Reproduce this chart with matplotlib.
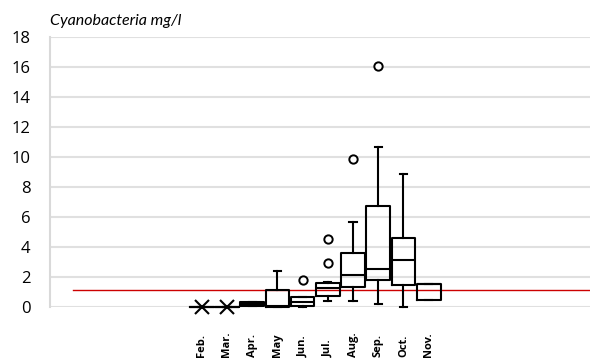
import matplotlib
matplotlib.use("Agg")
import matplotlib.pyplot as plt
import matplotlib.transforms as mtransforms

months = ["Feb.", "Mar.", "Apr.", "May", "Jun.", "Jul.", "Aug.", "Sep.", "Oct.", "Nov."]
q1 =     [0.0, 0.0, 0.05, 0.00, 0.07, 0.71, 1.33, 1.78, 1.45, 0.45]
median = [0.0, 0.0, 0.20, 0.05, 0.30, 1.22, 2.11, 2.51, 3.11, 1.51]
q3 =     [0.0, 0.0, 0.33, 1.11, 0.67, 1.60, 3.60, 6.71, 4.60, 1.51]
whislo = [0.0, 0.0, 0.05, 0.00, 0.00, 0.40, 0.40, 0.18, 0.00, 0.45]
whishi = [0.0, 0.0, 0.33, 2.38, 0.67, 1.67, 5.62, 10.67, 8.82, 1.51]
fliers = [[], [], [], [], [1.78], [2.89, 4.51], [9.85], [16.05], [], []]
means_shown = [0.0, 0.0]  # mean markers for Feb. and Mar.
threshold = 1.13
title = "Cyanobacteria mg/l"
yticks = [0, 2, 4, 6, 8, 10, 12, 14, 16, 18]

W, H = 590, 363
fig = plt.figure(figsize=(W / 100, H / 100), dpi=100)
ax = fig.add_axes([50 / W, (H - 306.7) / H, 540 / W, (306.7 - 36.7) / H])

positions = list(range(len(months)))
stats = []
for i in range(len(months)):
    stats.append(dict(q1=q1[i], med=median[i], q3=q3[i], whislo=whislo[i],
                      whishi=whishi[i], fliers=fliers[i], label=months[i]))

lw = 1.5
res = ax.bxp(stats, positions=positions, widths=0.94, showfliers=True, showcaps=True,
             boxprops=dict(color="black", linewidth=lw),
             medianprops=dict(color="black", linewidth=lw),
             whiskerprops=dict(color="black", linewidth=lw),
             capprops=dict(color="black", linewidth=lw),
             capwidths=0.28,
             flierprops=dict(marker="o", markerfacecolor="white", markeredgecolor="black",
                             markersize=6, markeredgewidth=1.4),
             zorder=3)
for key, arts in res.items():
    for a in arts:
        a.set_clip_on(False)

ax.plot(positions[:2], means_shown, linestyle="none", marker="x", color="black",
        markersize=10, markeredgewidth=1.5, zorder=4, clip_on=False)

x_left = -6.02
x_right = 15.4
ax.plot([-5.1, x_right], [threshold, threshold], color="#cc0000", linewidth=1.0, zorder=2)

ax.set_xlim(x_left, x_right)
ax.set_ylim(0, 18)
ax.set_yticks(yticks)
ax.set_yticklabels([str(v) for v in yticks], fontfamily="Open Sans", fontsize=12)
ax.tick_params(axis="y", length=0, pad=14)
ax.set_xticks([])
ax.grid(axis="y", color="#e0e0e0", linewidth=1.5, zorder=0)
ax.set_axisbelow(True)
for s in ["top", "right", "bottom"]:
    ax.spines[s].set_visible(False)
ax.spines["left"].set_color("#d9d9d9")
ax.spines["left"].set_linewidth(1.5)

trans = mtransforms.blended_transform_factory(ax.transData, fig.transFigure)
for p, m in zip(positions, months):
    ax.text(p, 6.3 / H, m, rotation=90, ha="center", va="bottom",
            fontfamily="Open Sans", fontweight="bold", fontsize=8, transform=trans)

fig.text(50 / W, (H - 25) / H, title, fontfamily="Lato", fontstyle="italic",
         fontsize=11.5, ha="left", va="baseline")

fig.savefig("out.png", dpi=100)
